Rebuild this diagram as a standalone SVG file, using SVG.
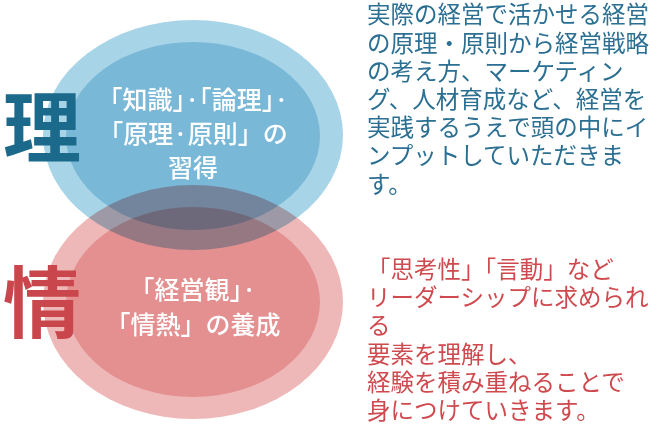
<svg xmlns="http://www.w3.org/2000/svg" width="668" height="439" viewBox="0 0 668 439">
<style>
.f{font-family:"Noto Sans CJK JP","Noto Sans",sans-serif}
.c{fill:#fff;font-size:25px;font-weight:500;text-anchor:middle}
.big{font-size:78px;font-weight:700}
.d{font-size:23.5px}
</style>
<rect width="668" height="439" fill="#fff"/>
<g id="ri">
<ellipse cx="193" cy="135" rx="150" ry="115" fill="#a8d4e8"/>
<ellipse cx="193" cy="136" rx="127" ry="94" fill="#7ab8d8"/>
</g>
<g id="jou" style="mix-blend-mode:multiply">
<ellipse cx="193" cy="302" rx="150" ry="117" fill="#efb8b8"/>
<ellipse cx="193" cy="302" rx="127" ry="95" fill="#e49090"/>
</g>
<g class="f">
<text class="c" x="193" y="109">「知識」·「論理」·</text>
<text class="c" x="193" y="143">「原理·原則」の</text>
<text class="c" x="193" y="177">習得</text>
<text class="c" x="193" y="299">「経営観」·</text>
<text class="c" x="193" y="334">「情熱」の養成</text>
<text class="big" x="3" y="157" fill="#1b6a8c">理</text>
<text class="big" x="3" y="332" fill="#c9474c">情</text>
<g class="d" fill="#2b6f93">
<text x="367" y="23">実際の経営で活かせる経営</text>
<text x="367" y="52">の原理・原則から経営戦略</text>
<text x="367" y="80">の考え方、マーケティン</text>
<text x="367" y="108">グ、人材育成など、経営を</text>
<text x="367" y="136">実践するうえで頭の中にイ</text>
<text x="367" y="164">ンプットしていただきま</text>
<text x="367" y="193">す。</text>
</g>
<g class="d" fill="#cf4a4e">
<text x="367" y="278">「思考性」「言動」など</text>
<text x="367" y="306">リーダーシップに求められ</text>
<text x="367" y="334">る</text>
<text x="367" y="363">要素を理解し、</text>
<text x="367" y="391">経験を積み重ねることで</text>
<text x="367" y="419">身につけていきます。</text>
</g>
</g>
</svg>
